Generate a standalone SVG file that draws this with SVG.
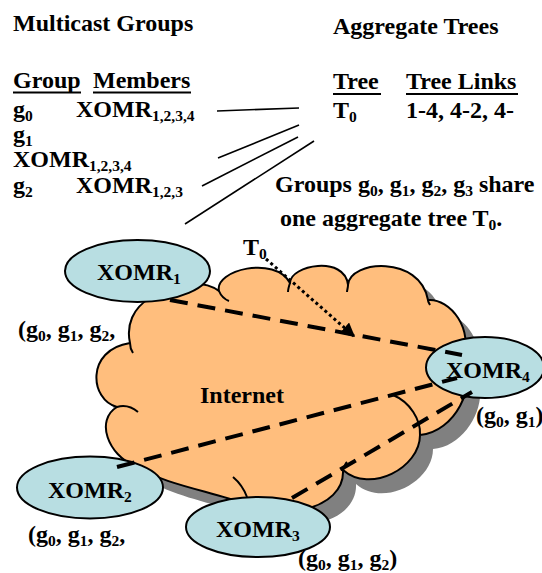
<svg xmlns="http://www.w3.org/2000/svg" width="542" height="573" viewBox="0 0 542 573">
<defs>
<style>
text{font-family:"Liberation Serif","Times New Roman",serif;font-weight:bold;font-size:24px;fill:#000}
.sub{font-size:15.5px}
.node{fill:#B8DEE2;stroke:#000;stroke-width:2}
.cloud{fill:#FFBE7D;stroke:#000;stroke-width:2;stroke-linejoin:round}
.fold{fill:none;stroke:#000;stroke-width:2}
.thin{stroke:#000;stroke-width:1.6;fill:none}
.ul{stroke:#000;stroke-width:2}
.link{stroke:#000;stroke-width:4;fill:none;stroke-dasharray:18 10}
.dot{stroke:#000;stroke-width:3;fill:none;stroke-dasharray:3 3}
</style>
<marker id="arr" markerUnits="userSpaceOnUse" markerWidth="16" markerHeight="16" refX="14" refY="7" orient="auto">
<path d="M0,0 L14,7 L0,14 Z" fill="#000"/>
</marker>
<path id="cloudShape" d="M150,298 C170,280 205,280 219,291 C214,270 275,255 290,283 C290,265 345,255 348,285 C350,260 420,255 428,300 C450,298 475,330 462,360 C478,385 455,432 420,435 C420,468 370,494 343,470 C344,488 330,505 300,510 L245,504 C215,492 165,485 135,466 C108,455 95,420 117,407 C90,400 85,350 130,343 C126,325 133,308 150,298 Z"/>
</defs>

<g id="table-groups">
<text x="13" y="31">Multicast Groups</text>
<text x="13" y="88">Group</text>
<line class="ul" x1="13" y1="92.5" x2="81" y2="92.5"/>
<text x="93" y="88">Members</text>
<line class="ul" x1="93" y1="92.5" x2="191" y2="92.5"/>
<text x="13" y="117">g<tspan class="sub" dy="4">0</tspan></text>
<text x="76" y="117">XOMR<tspan class="sub" dy="4">1,2,3,4</tspan></text>
<text x="13" y="142">g<tspan class="sub" dy="4">1</tspan></text>
<text x="13" y="167">XOMR<tspan class="sub" dy="4">1,2,3,4</tspan></text>
<text x="13" y="193">g<tspan class="sub" dy="4">2</tspan></text>
<text x="76" y="193">XOMR<tspan class="sub" dy="4">1,2,3</tspan></text>
</g>

<g id="table-trees">
<text x="333" y="34">Aggregate Trees</text>
<text x="333" y="89">Tree</text>
<line class="ul" x1="333" y1="94" x2="381" y2="94"/>
<text x="406" y="89">Tree Links</text>
<line class="ul" x1="406" y1="94" x2="518" y2="94"/>
<text x="333" y="118">T<tspan class="sub" dy="4">0</tspan></text>
<text x="406" y="118">1-4, 4-2, 4-</text>
</g>

<g id="note">
<text x="275" y="192">Groups g<tspan class="sub" dy="4">0</tspan><tspan dy="-4">, g</tspan><tspan class="sub" dy="4">1</tspan><tspan dy="-4">, g</tspan><tspan class="sub" dy="4">2</tspan><tspan dy="-4">, g</tspan><tspan class="sub" dy="4">3</tspan><tspan dy="-4"> share</tspan></text>
<text x="280" y="226">one aggregate tree T<tspan class="sub" dy="4">0</tspan><tspan dy="-4">.</tspan></text>
</g>

<g id="internet">
<use href="#cloudShape" transform="translate(13,14)" fill="#808080"/>
<use href="#cloudShape" class="cloud"/>
<path class="fold" d="M219,291 C221,296 224,299 229,301"/>
<path class="fold" d="M290,283 C289,286 288,289 288,292"/>
<path class="fold" d="M348,285 C348,288 347,290 347,292"/>
<path class="fold" d="M428,300 C428,302 429,303 430,305"/>
<path class="fold" d="M420,435 C421,420 410,402 393,395"/>
<path class="fold" d="M343,470 C344,467 345,464 347,462"/>
<path class="fold" d="M233,477 C239,482 244,489 247,497"/>
<path class="fold" d="M117,407 C124,405 132,407 138,412"/>
<path class="fold" d="M130,343 C130,347 131,350 133,353"/>
<text x="200" y="403">Internet</text>
</g>

<g id="xomr1">
<ellipse class="node" cx="137.5" cy="271" rx="72.5" ry="31"/>
<text x="97" y="280">XOMR<tspan class="sub" dy="4">1</tspan></text>
<text x="18" y="337">(g<tspan class="sub" dy="4">0</tspan><tspan dy="-4">, g</tspan><tspan class="sub" dy="4">1</tspan><tspan dy="-4">, g</tspan><tspan class="sub" dy="4">2</tspan><tspan dy="-4">,</tspan></text>
</g>

<g id="xomr4">
<ellipse class="node" cx="485" cy="367.5" rx="59" ry="30.5"/>
<text x="446" y="378">XOMR<tspan class="sub" dy="4">4</tspan></text>
<text x="476" y="423">(g<tspan class="sub" dy="4">0</tspan><tspan dy="-4">, g</tspan><tspan class="sub" dy="4">1</tspan><tspan dy="-4">)</tspan></text>
</g>

<g id="xomr2">
<ellipse class="node" cx="90" cy="487.5" rx="73" ry="31"/>
<text x="48" y="498">XOMR<tspan class="sub" dy="4">2</tspan></text>
<text x="28" y="542">(g<tspan class="sub" dy="4">0</tspan><tspan dy="-4">, g</tspan><tspan class="sub" dy="4">1</tspan><tspan dy="-4">, g</tspan><tspan class="sub" dy="4">2</tspan><tspan dy="-4">,</tspan></text>
</g>

<g id="xomr3">
<ellipse class="node" cx="258" cy="527" rx="72" ry="30"/>
<text x="216" y="537">XOMR<tspan class="sub" dy="4">3</tspan></text>
<text x="298" y="566">(g<tspan class="sub" dy="4">0</tspan><tspan dy="-4">, g</tspan><tspan class="sub" dy="4">1</tspan><tspan dy="-4">, g</tspan><tspan class="sub" dy="4">2</tspan><tspan dy="-4">)</tspan></text>
</g>

<g id="t0-label">
<text x="243" y="255">T<tspan class="sub" dy="4">0</tspan></text>
</g>

<g id="connectors">
<line class="thin" x1="217" y1="111" x2="299" y2="108"/>
<line class="thin" x1="218" y1="158" x2="299" y2="125"/>
<line class="thin" x1="202" y1="186" x2="298" y2="137"/>
<line class="thin" x1="185" y1="224" x2="314" y2="141"/>
<line class="link" x1="170" y1="300" x2="462" y2="355"/>
<line class="link" x1="117" y1="467" x2="457" y2="378"/>
<line class="link" x1="292" y1="498" x2="472" y2="392"/>
<line class="dot" x1="266" y1="259" x2="355" y2="337" marker-end="url(#arr)"/>
</g>
</svg>
